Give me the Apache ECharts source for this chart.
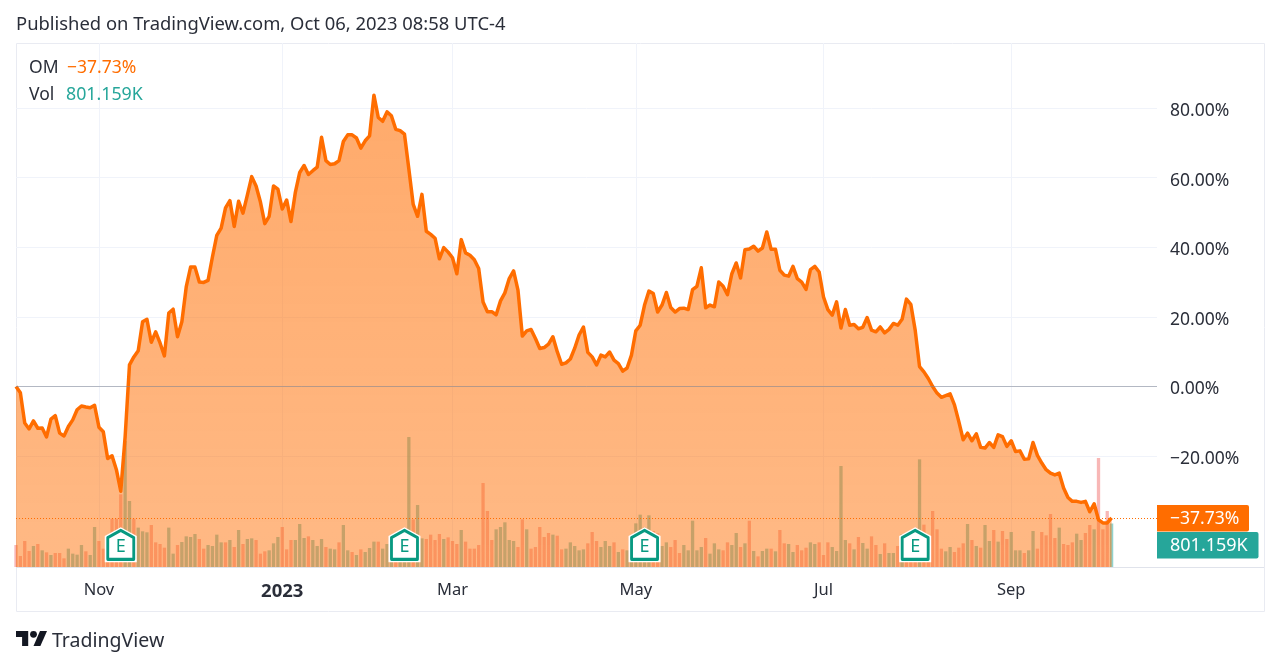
<!DOCTYPE html>
<html>
<head>
<meta charset="utf-8">
<style>
  html, body { margin: 0; padding: 0; background: #fff; }
  #chart { width: 1280px; height: 667px; }
</style>
<script src="https://cdn.jsdelivr.net/npm/echarts@6/dist/echarts.min.js"></script>
</head>
<body>
<div id="chart"></div>
<script>
// percent change, one value per trading day
const percentValues = [
  0, -1.8, -10.5, -12.2, -9.9, -12, -11.9, -14.5, -9.4, -8.4, -13.4, -14.2, -11.5, -9.6, -6.7, -5.6, -5.9, -6.1, -5.4, -11.7,
  -13, -20.7, -19.9, -23.9, -30.1, -14.5, 6.2, 8.5, 10.3, 18.6, 19.3, 12.7, 15.7, 12.5, 8.8, 21.1, 22.2, 14.3, 18.6, 28.6,
  34.3, 34.3, 30, 29.9, 30.5, 37.2, 43.4, 45.5, 51.3, 53.4, 46, 53.2, 49.8, 55, 60.3, 57.6, 53, 46.8, 48.9, 57.6,
  56.7, 51, 53.6, 47.4, 55.8, 61.5, 63.5, 60.9, 62, 63, 71.6, 64.9, 63.8, 64, 64.9, 70.4, 72.3, 72.3, 71.4, 68.5,
  70.6, 72, 83.7, 77.3, 76.2, 78.9, 77.8, 73.9, 73.5, 72.5, 62.5, 52.3, 48.9, 55.2, 44.6, 43.7, 42.6, 36.7, 39.9, 38.6,
  37, 32.4, 42.2, 38.4, 37.7, 36.4, 33.9, 24.3, 21.5, 21.5, 20.6, 24.6, 26.9, 31, 33.2, 27.7, 14.5, 16, 16.4, 13.8,
  10.9, 11.2, 12.2, 14.3, 10, 6.4, 6.8, 7.9, 11, 14.8, 17.1, 9.8, 8.5, 6.2, 9, 8.5, 9.9, 7.6, 6.6, 4.4,
  5.3, 9, 16, 17.6, 23.4, 27.4, 26.7, 21.4, 23.4, 27, 22.7, 21.4, 22.4, 22.5, 22.1, 27.8, 28.8, 34.1, 22.6, 23.4,
  22.9, 30, 28.8, 26.4, 32.4, 35.5, 31.2, 39.3, 39.5, 40.3, 38.9, 39.8, 44.4, 39.4, 39.4, 33.4, 32, 31.7, 34.5, 31,
  30, 27.9, 33.6, 34.5, 32.9, 25.7, 22.1, 20.5, 24.3, 16.8, 22.1, 17.6, 17.8, 16.6, 17, 19.8, 16.2, 15.7, 17.1, 15.4,
  16.4, 18.1, 17.6, 19.3, 25.1, 23.6, 16.2, 5.7, 4.2, 2.3, 0, -1.9, -3.1, -2.6, -2.1, -5.3, -10.1, -15.3, -13.4, -15.6,
  -13.6, -17.5, -17.7, -16.1, -17.5, -13.9, -14.4, -17.2, -15.6, -18.7, -18.5, -20.9, -20.8, -16.1, -19.8, -22, -23.9, -24.9, -25.4, -24.9,
  -29.2, -31.9, -33, -33, -33.3, -33, -36, -33.7, -38.3, -39.2, -39.2, -37.73
];
// volume in thousands
const volumeValues = [
  405, 203, 479, 295, 387, 424, 307, 270, 221, 258, 258, 160, 338, 246, 227, 405, 289, 221, 737, 479,
  338, 540, 890, 890, 1339, 2321, 1216, 890, 725, 657, 639, 774, 454, 424, 356, 725, 246, 405, 461, 565,
  553, 608, 516, 338, 405, 387, 596, 454, 454, 497, 368, 682, 424, 516, 528, 497, 246, 289, 307, 436,
  553, 737, 325, 497, 497, 792, 534, 565, 497, 387, 516, 368, 338, 325, 454, 774, 307, 276, 221, 325,
  276, 350, 467, 467, 338, 424, 418, 356, 356, 418, 2395, 878, 1142, 528, 516, 596, 497, 608, 516, 546,
  479, 424, 682, 467, 338, 338, 405, 1547, 1032, 497, 694, 737, 823, 497, 479, 368, 878, 694, 338, 368,
  737, 553, 626, 596, 577, 325, 338, 454, 387, 307, 325, 436, 645, 479, 368, 479, 387, 454, 276, 325,
  307, 356, 804, 964, 725, 952, 663, 620, 387, 454, 368, 497, 258, 405, 307, 853, 307, 368, 534, 246,
  436, 325, 307, 454, 405, 626, 368, 436, 853, 295, 196, 295, 338, 338, 289, 682, 436, 424, 276, 405,
  307, 356, 454, 424, 454, 221, 454, 368, 295, 1860, 497, 436, 325, 553, 442, 338, 565, 405, 239, 436,
  258, 258, 387, 602, 387, 356, 356, 1983, 780, 356, 1032, 694, 338, 289, 368, 276, 356, 436, 792, 497,
  387, 356, 774, 479, 682, 467, 663, 516, 645, 307, 307, 258, 307, 663, 338, 645, 583, 976, 534, 725,
  424, 405, 454, 614, 497, 626, 774, 694, 2008, 694, 1032, 801.159
];
// g = up day, r = down day
const volumeDirection = (
  'rrrrgrgrgrrrggggrggr' + 'rrrrrggrgggrrrrggrgg' + 'ggrrggggrgrgrggrrrgg' + 'grrrgggrgggrggrggrgr' +
  'gggrgggrgggrggrrrrgr' + 'rrgrrrrrrrgggggrrgrr' + 'rrrgrrgggggrrrgggrgr' + 'ggggggrrggrrrgggggrg' +
  'ggrrggrgrgrggrgrrggr' + 'rrggrrrggggrgrggrrgr' + 'ggrgrrrgrrrrrggrrrgr' + 'grggrgrrgggrggrrrrrg' +
  'rrrggrrgrrrg'
).split('');
const xTickIndex = [19, 61, 100, 142, 185, 228];
const xTickLabels = ['Nov', '2023', 'Mar', 'May', 'Jul', 'Sep'];
const yTicks = [-20, 0, 20, 40, 60, 80];
const earningsIndex = [24, 89, 144, 206];
const lastPercent = -37.73;

const ORANGE = '#ff6d00';
const TEAL = '#26a69a';
const TEXT = '#2a2e39';
const FONT = '"Noto Sans", sans-serif';

const chart = echarts.init(document.getElementById('chart'));

const fmtPercent = (v) => (v < 0 ? '\u2212' : '') + Math.abs(v).toFixed(2) + '%';
const housePath = 'path://M15 0 L30 9 L30 36 L0 36 L0 9 Z';

chart.setOption({
  animation: false,
  textStyle: { fontFamily: FONT },
  grid: { left: 16, right: 123, top: 43, bottom: 100 },
  xAxis: {
    type: 'value',
    min: 0,
    max: 261.4,
    axisLine: { show: false },
    axisTick: { show: false, customValues: xTickIndex },
    splitLine: { show: true, lineStyle: { color: '#f0f3fa' } },
    axisLabel: {
      customValues: xTickIndex,
      margin: 15,
      color: TEXT,
      fontSize: 16.5,
      formatter: (v) => {
        const s = xTickLabels[xTickIndex.indexOf(v)];
        return s === '2023' ? '{b|' + s + '}' : s;
      },
      rich: { b: { fontWeight: 'bold', fontSize: 18.5, color: TEXT, fontFamily: FONT } }
    }
  },
  yAxis: [
    {
      type: 'value',
      position: 'right',
      min: -51.87,
      max: 98.7,
      axisLine: { show: false },
      axisTick: { show: false, customValues: yTicks },
      splitLine: { show: true, lineStyle: { color: '#f0f3fa' } },
      axisLabel: {
        customValues: yTicks,
        margin: 13,
        color: TEXT,
        formatter: (v) => '{a|' + fmtPercent(v) + '}',
        rich: { a: { fontSize: 17.5, color: TEXT, fontFamily: FONT, padding: [6, 0, 0, 0] } }
      }
    },
    {
      type: 'value',
      min: 0,
      max: 9652,
      show: false,
      splitLine: { show: false }
    }
  ],
  series: [
    {
      name: 'Vol',
      type: 'bar',
      yAxisIndex: 1,
      barWidth: 3.3,
      z: 1,
      data: volumeValues.map((v, i) => ({
        value: [i, v],
        itemStyle: { color: volumeDirection[i] === 'g' ? 'rgba(38,166,154,0.5)' : 'rgba(239,83,80,0.42)' }
      }))
    },
    {
      name: 'OM',
      type: 'line',
      z: 2,
      symbol: 'none',
      data: percentValues.map((v, i) => [i, v]),
      lineStyle: { color: ORANGE, width: 3.5, join: 'round' },
      itemStyle: { color: ORANGE },
      areaStyle: {
        origin: 'start',
        opacity: 1,
        color: new echarts.graphic.LinearGradient(0, 0, 0, 1, [
          { offset: 0, color: 'rgba(255,109,0,0.58)' },
          { offset: 1, color: 'rgba(255,109,0,0.48)' }
        ])
      },
      markLine: {
        silent: true,
        symbol: 'none',
        label: { show: false },
        data: [
          { yAxis: lastPercent, lineStyle: { color: ORANGE, type: [1, 2], width: 1 } },
          { yAxis: 0, lineStyle: { color: 'rgba(130,135,150,0.55)', type: 'solid', width: 1 } }
        ]
      }
    },
    {
      name: 'earnings-halo',
      type: 'scatter',
      z: 3,
      silent: true,
      symbol: housePath,
      symbolSize: [32, 35],
      itemStyle: { color: '#fff', opacity: 1 },
      data: earningsIndex.map((i) => [i, -45.5])
    },
    {
      name: 'earnings',
      type: 'scatter',
      z: 4,
      silent: true,
      symbol: housePath,
      symbolSize: [26, 29],
      itemStyle: { color: '#fff', borderColor: '#089981', borderWidth: 3, borderJoin: 'round', opacity: 1 },
      label: { show: true, position: 'inside', formatter: 'E', color: '#089981', fontSize: 18, fontFamily: FONT, offset: [0, 2] },
      data: earningsIndex.map((i) => [i, -45.5])
    }
  ],
  graphic: [
    { type: 'rect', z: 0, silent: true, shape: { x: 16.5, y: 43.5, width: 1248, height: 568 }, style: { fill: 'none', stroke: '#e9ebf2', lineWidth: 1 } },
    { type: 'line', z: 0, silent: true, shape: { x1: 16, y1: 567.5, x2: 1264, y2: 567.5 }, style: { stroke: '#e0e3eb', lineWidth: 1 } },
    { type: 'text', x: 16, y: 16, z: 10, style: { text: 'Published on TradingView.com, Oct 06, 2023 08:58 UTC-4', font: '18.4px ' + FONT, fill: TEXT } },
    { type: 'text', x: 29, y: 59, z: 10, style: { text: 'OM', font: '17.5px ' + FONT, fill: TEXT } },
    { type: 'text', x: 67, y: 59, z: 10, style: { text: fmtPercent(lastPercent), font: '17.5px ' + FONT, fill: ORANGE } },
    { type: 'text', x: 29, y: 86, z: 10, style: { text: 'Vol', font: '17.5px ' + FONT, fill: TEXT } },
    { type: 'text', x: 66, y: 86, z: 10, style: { text: '801.159K', font: '17.8px ' + FONT, fill: TEAL } },
    { type: 'rect', z: 9, shape: { x: 1157, y: 505, width: 92, height: 26.5, r: [0, 2, 2, 0] }, style: { fill: ORANGE } },
    { type: 'text', x: 1170, y: 510, z: 10, style: { text: fmtPercent(lastPercent), font: '17.5px ' + FONT, fill: '#fff' } },
    { type: 'rect', z: 9, shape: { x: 1157, y: 532, width: 101.5, height: 26.5, r: [0, 2, 2, 0] }, style: { fill: TEAL } },
    { type: 'text', x: 1170, y: 537, z: 10, style: { text: '801.159K', font: '18px ' + FONT, fill: '#fff' } },
    { type: 'polygon', z: 10, shape: { points: [[16, 631], [28.2, 631], [28.2, 646], [22.1, 646], [22.1, 637], [16, 637]] }, style: { fill: '#131722' } },
    { type: 'polygon', z: 10, shape: { points: [[33.5, 646], [40, 631], [47, 631], [40.4, 646]] }, style: { fill: '#131722' } },
    { type: 'circle', z: 10, shape: { cx: 33.5, cy: 634.3, r: 3.4 }, style: { fill: '#131722' } },
    { type: 'text', x: 52, y: 631, z: 10, style: { text: 'TradingView', font: '19.5px ' + FONT, fill: TEXT } }
  ]
});
</script>
</body>
</html>
